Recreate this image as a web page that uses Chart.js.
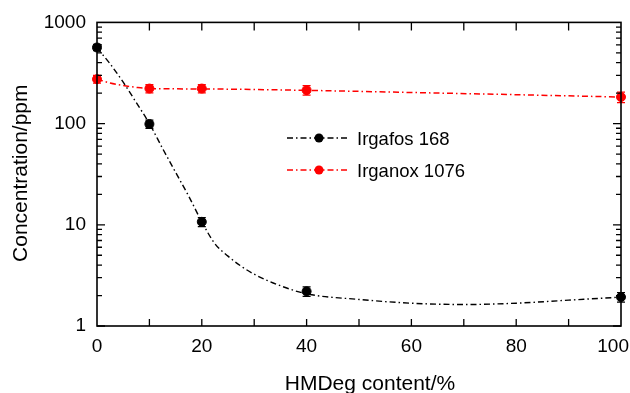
<!DOCTYPE html>
<html>
<head>
<meta charset="utf-8">
<script src="https://cdn.jsdelivr.net/npm/chart.js@4.4.1/dist/chart.umd.min.js"></script>
<style>
  html, body { margin: 0; padding: 0; background: #fff; }
</style>
</head>
<body>
<canvas id="concChart" width="630" height="393"></canvas>
<script>
// measured points (HMDeg content in %, concentration in ppm)
const contents = [0, 10, 20, 40, 100];
const irgafos = [565, 99, 10.7, 2.2, 1.93];
const irgafosErr = [40, 9, 1.1, 0.24, 0.21];
const irganox = [275, 222, 222, 214, 183];
const irganoxErr = [24, 21, 21, 23, 22];

// fitted curves
const irgafosFitX = [0, 2.5, 5, 7.5, 10, 12.5, 15, 17.5, 20, 22.5, 25, 27.5, 30, 35, 40, 50, 60, 70, 80, 90, 100];
const irgafosFit = [560, 389, 257, 161, 100, 57, 33, 19.2, 10.7, 6.5, 4.9, 3.9, 3.25, 2.5, 2.08, 1.83, 1.68, 1.63, 1.68, 1.8, 1.93];
const irganoxFitX = [0, 2.5, 5, 7.5, 10, 20, 40, 60, 80, 100];
const irganoxFit = [275, 252, 238, 228, 222, 220, 213, 203, 193, 183];

const xTickLabels = [0, 20, 40, 60, 80, 100];
const yTickLabels = [1, 10, 100, 1000];

const FONT = "'Liberation Sans', Arial, sans-serif";
const RED = "#ff0000";
const DASH = [6, 3, 1.5, 3];

const toPts = (xs, ys) => xs.map((v, i) => ({ x: v, y: ys[i] }));

const decorations = {
  id: "decorations",
  afterDatasetsDraw(chart) {
    const { ctx, chartArea: a, scales: { x, y } } = chart;
    ctx.save();

    // error bars
    [[irgafos, irgafosErr, "#000"], [irganox, irganoxErr, RED]].forEach(([vals, errs, col]) => {
      ctx.strokeStyle = col;
      ctx.lineWidth = 1.3;
      vals.forEach((v, i) => {
        const px = x.getPixelForValue(contents[i]);
        const y1 = y.getPixelForValue(v + errs[i]);
        const y2 = y.getPixelForValue(v - errs[i]);
        ctx.beginPath();
        ctx.moveTo(px, y1); ctx.lineTo(px, y2);
        ctx.moveTo(px - 4, y1); ctx.lineTo(px + 4, y1);
        ctx.moveTo(px - 4, y2); ctx.lineTo(px + 4, y2);
        ctx.stroke();
      });
    });

    // frame
    ctx.strokeStyle = "#000";
    ctx.lineWidth = 1.6;
    ctx.strokeRect(a.left, a.top, a.right - a.left, a.bottom - a.top);

    // x ticks (inside, top and bottom)
    ctx.lineWidth = 1.3;
    ctx.beginPath();
    for (let v = 10; v < 100; v += 10) {
      const px = x.getPixelForValue(v);
      ctx.moveTo(px, a.bottom); ctx.lineTo(px, a.bottom - 7);
      ctx.moveTo(px, a.top); ctx.lineTo(px, a.top + 8);
    }
    // y log ticks (inside, left and right)
    for (let d = 1; d < 1000; d *= 10) {
      for (let m = 1; m <= 9; m++) {
        const py = y.getPixelForValue(m * d);
        const len = m === 1 ? 8 : 5;
        ctx.moveTo(a.left, py); ctx.lineTo(a.left + len, py);
        ctx.moveTo(a.right, py); ctx.lineTo(a.right - len, py);
      }
    }
    ctx.stroke();

    // x tick labels
    ctx.fillStyle = "#000";
    ctx.font = "19px " + FONT;
    ctx.textAlign = "center";
    ctx.textBaseline = "alphabetic";
    xTickLabels.forEach(v => {
      const t = String(v);
      const w = ctx.measureText(t).width;
      let px = x.getPixelForValue(v);
      if (px + w / 2 > chart.width) px = chart.width - w / 2 - 1;
      ctx.fillText(t, px, a.bottom + 26);
    });

    // axis titles
    ctx.font = "21px " + FONT;
    ctx.fillText("HMDeg content/%", 370, 390);
    ctx.save();
    ctx.translate(27, (a.top + a.bottom) / 2 - 1);
    ctx.rotate(-Math.PI / 2);
    ctx.fillText("Concentration/ppm", 0, 0);
    ctx.restore();

    // legend
    const items = [["Irgafos 168", "#000", 138], ["Irganox 1076", RED, 170]];
    items.forEach(([label, col, ly]) => {
      ctx.strokeStyle = col;
      ctx.lineWidth = 1.4;
      ctx.setLineDash(DASH);
      ctx.beginPath();
      ctx.moveTo(287, ly); ctx.lineTo(348, ly);
      ctx.stroke();
      ctx.setLineDash([]);
      ctx.fillStyle = col;
      ctx.beginPath();
      ctx.arc(319, ly, 4.5, 0, Math.PI * 2);
      ctx.fill();
      ctx.fillStyle = "#000";
      ctx.font = "18.5px " + FONT;
      ctx.textAlign = "left";
      ctx.fillText(label, 357, ly + 6.5);
    });

    ctx.restore();
  }
};

const ctx = document.getElementById("concChart").getContext("2d");

const concChart = new Chart(ctx, {
  type: "scatter",
  data: {
    datasets: [
      {
        label: "Irgafos 168 fit",
        data: toPts(irgafosFitX, irgafosFit),
        showLine: true,
        borderColor: "#000",
        borderWidth: 1.4,
        borderDash: DASH,
        pointRadius: 0,
        cubicInterpolationMode: "monotone",
        clip: false,
      },
      {
        label: "Irganox 1076 fit",
        data: toPts(irganoxFitX, irganoxFit),
        showLine: true,
        borderColor: RED,
        borderWidth: 1.5,
        borderDash: DASH,
        pointRadius: 0,
        cubicInterpolationMode: "monotone",
        clip: false,
      },
      {
        label: "Irgafos 168",
        data: toPts(contents, irgafos),
        backgroundColor: "#000",
        borderColor: "#000",
        pointRadius: 4.5,
        clip: false,
      },
      {
        label: "Irganox 1076",
        data: toPts(contents, irganox),
        backgroundColor: RED,
        borderColor: RED,
        pointRadius: 4.5,
        clip: false,
      },
    ],
  },
  options: {
    responsive: false,
    animation: false,
    layout: { padding: { left: 0, right: 9, top: 21, bottom: 0 } },
    plugins: {
      legend: { display: false },
      tooltip: { enabled: false },
    },
    scales: {
      x: {
        type: "linear",
        min: 0,
        max: 100,
        grid: { display: false, drawTicks: false },
        border: { display: false },
        ticks: { display: false, stepSize: 20 },
        afterFit: (s) => { s.height = 67; },
      },
      y: {
        type: "logarithmic",
        min: 1,
        max: 1000,
        grid: { display: false, drawTicks: false },
        border: { display: false },
        ticks: {
          autoSkip: false,
          padding: 11,
          color: "#000",
          font: { family: FONT, size: 19 },
          callback: (v) => (yTickLabels.includes(v) ? String(v) : ""),
        },
        afterFit: (s) => { s.width = 97; },
      },
    },
  },
  plugins: [decorations],
});
</script>
</body>
</html>
